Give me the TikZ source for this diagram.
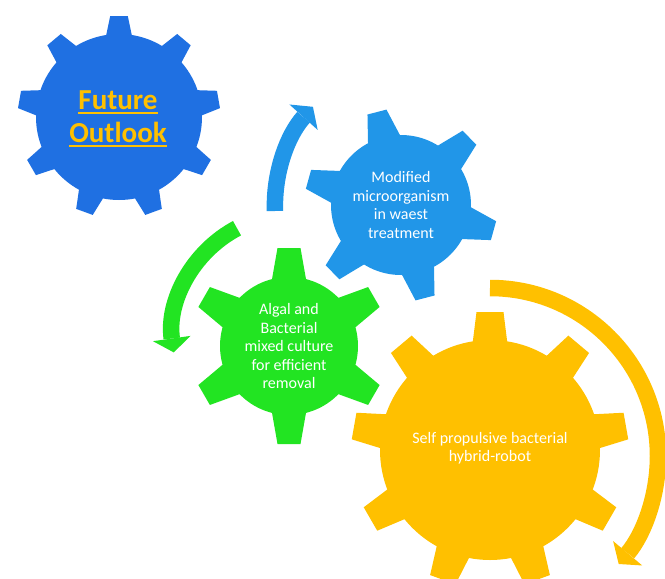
\documentclass[tikz,border=0pt]{standalone}
\usepackage{fontspec}
\setmainfont{Carlito}
\usepackage{tikz}
\usetikzlibrary{arrows.meta}
\newcommand{\gearuline}[1]{\vtop{\hbox{#1}\kern1.6pt\hrule height 2.2pt}}
\definecolor{darkgear}{RGB}{31,112,226}
\definecolor{skygear}{RGB}{33,150,232}
\definecolor{greengear}{RGB}{34,228,34}
\definecolor{ambergear}{RGB}{255,192,0}
\tikzstyle{gearlabel} = [align=center, text=white, font=\fontsize{16}{18.5}\selectfont]
\tikzstyle{arrow} = [line width=16.5pt, -{Triangle[width=38pt,length=14pt,line width=0pt]}]

\begin{document}
\begin{tikzpicture}[x=1pt,y=1pt]
\useasboundingbox (0,0) rectangle (665,-579);
\coordinate (GearOutlook) at (119,-117);
\coordinate (GearWaste) at (401,-205);
\coordinate (GearAlgal) at (289,-346);
\coordinate (GearRobot) at (490,-450);
\coordinate (WasteTail) at (275,-211);
\coordinate (AlgalTail) at (237,-228.2);
\coordinate (RobotTail) at (490,-288);

\fill [darkgear] (GearOutlook) circle (83pt);
\foreach \a in {90,50,...,-230}
  \fill [darkgear, shift={(GearOutlook)}, rotate=\a] (78,-13.6) -- (101,-8.8) -- (101,8.8) -- (78,13.6) -- cycle;

\fill [skygear] (GearWaste) circle (70pt);
\foreach \a in {104.5,44.5,...,-195.5}
  \fill [skygear, shift={(GearWaste)}, rotate=\a] (65,-17.2) -- (96,-9.8) -- (96,9.8) -- (65,17.2) -- cycle;

\fill [greengear] (GearAlgal) circle (69pt);
\foreach \a in {90,30,...,-210}
  \fill [greengear, shift={(GearAlgal)}, rotate=\a] (64,-17.5) -- (98,-11.5) -- (98,11.5) -- (64,17.5) -- cycle;

\fill [ambergear] (GearRobot) circle (110pt);
\foreach \a in {90,50,...,-230}
  \fill [ambergear, shift={(GearRobot)}, rotate=\a] (105,-17.6) -- (138,-13.5) -- (138,13.5) -- (105,17.6) -- cycle;

\node (Outlook) [text=ambergear, align=center, font=\bfseries\fontsize{29}{33}\selectfont] at (118,-119) {\gearuline{Future}\\\gearuline{Outlook}};
\node (Waste) [gearlabel] at (GearWaste) {Modified\\microorganism\\in waest\\treatment};
\node (Algal) [gearlabel] at (GearAlgal) {Algal and\\Bacterial\\mixed culture\\for efficient\\removal};
\node (Robot) [gearlabel] at (490,-448) {Self propulsive bacterial\\hybrid-robot};

\draw [arrow, skygear] (WasteTail) arc (182:138:148pt);
\draw [arrow, greengear] (AlgalTail) arc (118:188:121.5pt);
\draw [arrow, ambergear] (RobotTail) arc (90:-40:168pt);
\end{tikzpicture}
\end{document}
